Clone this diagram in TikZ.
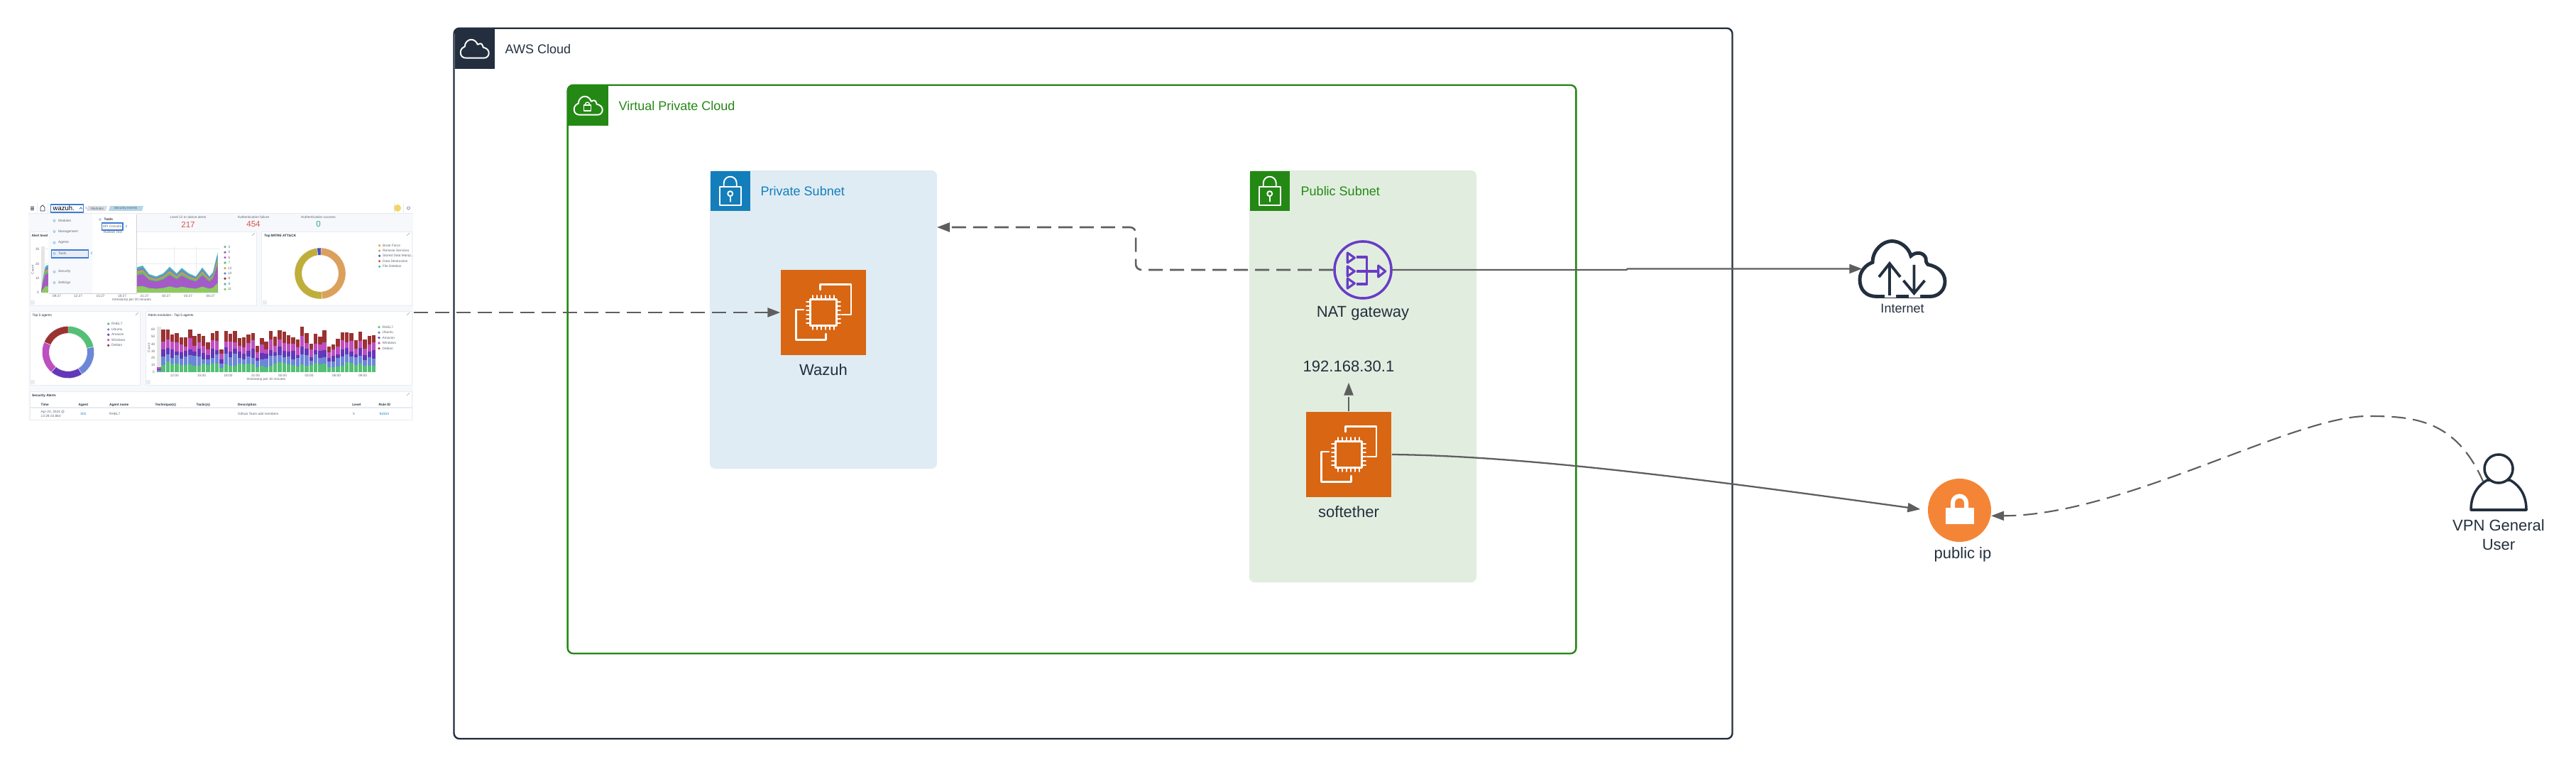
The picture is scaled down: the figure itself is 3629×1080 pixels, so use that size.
\documentclass[tikz,border=0pt]{standalone}
\usepackage{fontspec}
\setmainfont{Liberation Sans}
\usetikzlibrary{arrows.meta}
\definecolor{awsdark}{HTML}{232F3E}
\definecolor{vpcgreen}{HTML}{248814}
\definecolor{privblue}{HTML}{147EBA}
\definecolor{privfill}{HTML}{DFECF4}
\definecolor{pubfill}{HTML}{E1EEDF}
\definecolor{ectwo}{HTML}{D86613}
\definecolor{natpurple}{HTML}{693CC5}
\definecolor{ipfill}{HTML}{F58536}
\definecolor{linegrey}{HTML}{5E5E5E}
\definecolor{pagebg}{HTML}{F7F8FB}
\definecolor{panelline}{HTML}{E8EBF1}
\definecolor{menuside}{HTML}{F7F9FC}
\definecolor{menurow}{HTML}{E9EDF3}
\definecolor{focusblue}{HTML}{3C7BD9}
\definecolor{crumbgrey}{HTML}{D8DDE2}
\definecolor{crumbblue}{HTML}{B5D5E8}
\definecolor{textgrey}{HTML}{5F6672}
\definecolor{chartgreen}{HTML}{54BF76}
\definecolor{chartblue}{HTML}{6C87D8}
\definecolor{chartpurple}{HTML}{6238B8}
\definecolor{chartpink}{HTML}{BD4FBF}
\definecolor{chartred}{HTML}{9B3232}
\definecolor{arealime}{HTML}{8CCB5E}
\definecolor{areaviolet}{HTML}{A35BC9}
\definecolor{areagold}{HTML}{C7A24A}
\definecolor{areateal}{HTML}{4CB7B0}
\definecolor{ringorange}{HTML}{DBA05C}
\definecolor{ringolive}{HTML}{BFAE3A}
\definecolor{ringblue}{HTML}{3F4FC5}
\definecolor{statred}{HTML}{D9534F}
\definecolor{statteal}{HTML}{2FA8A0}
\definecolor{badge}{HTML}{F2D566}
\tikzset{
	groupframe/.style={line width=0.68pt,inner sep=0,rounded corners=0.08cm},
	subnetbox/.style={inner sep=0,rounded corners=0.08cm},
	headbox/.style={inner sep=0,minimum size=0.56cm,anchor=north west},
	ecbox/.style={fill=ectwo,inner sep=0,minimum size=1.2cm},
	grouptitle/.style={font=\fontsize{5.12}{6.2}\selectfont,inner sep=0,anchor=west},
	caption/.style={font=\fontsize{6.26}{7.7}\selectfont,text=awsdark,inner sep=0,align=center},
	dashline/.style={draw=linegrey,line width=0.72pt,dash pattern=on 0.2cm off 0.1cm},
	solidline/.style={draw=linegrey,line width=0.65pt},
	tip/.style={-{Triangle[length=0.18cm,width=0.13cm]}},
	iconpen/.style={draw=white,line width=0.55pt,line join=round,line cap=round},
	dashtext/.style={font=\fontsize{1.35}{1.7}\selectfont,text=textgrey,inner sep=0,anchor=west},
	dashbold/.style={font=\fontsize{1.35}{1.7}\selectfont\bfseries,text=awsdark,inner sep=0,anchor=west},
	dashpanel/.style={fill=white,draw=panelline,line width=0.2pt},
	chartgrid/.style={draw=panelline,line width=0.15pt},
	pics/cloudicon/.style={code={
		\draw[pic actions] (-12,13) .. controls (-17,13) and (-20,10) .. (-20,5)
			.. controls (-20,1) and (-17,-2) .. (-14,-3)
			.. controls (-14,-9) and (-9,-13) .. (-5,-13)
			.. controls (-1,-13) and (3,-10) .. (4,-6)
			.. controls (6,-8) and (10,-8) .. (11,-5)
			.. controls (11,-4) and (11,-3) .. (12,-2)
			.. controls (17,-1) and (20,2) .. (20,6)
			.. controls (20,10) and (17,13) .. (13,13) -- cycle;
	}},
	pics/lockicon/.style={code={
		\draw[iconpen] (-15,-6) rectangle (15,20);
		\draw[iconpen] (-9,-6) -- (-9,-11) arc[start angle=180,end angle=360,radius=9] -- (9,-6);
		\draw[iconpen] (0,4) circle[radius=3.5];
		\draw[iconpen] (0,7.5) -- (0,15);
	}},
	pics/chipicon/.style={code={
		\draw[iconpen,line width=0.75pt] (-4.4,-32) -- (-4.4,-39.3) -- (39,-39.3) -- (39,3) -- (26,3);
		\draw[iconpen,line width=0.75pt] (-28,-4) -- (-38.6,-4) -- (-38.6,38.3) -- (3.3,38.3) -- (3.3,30);
		\draw[iconpen,line width=0.75pt] (-18.5,-18.5) rectangle (18.5,18.5);
		\foreach \pin in {-15,-9,-3,3,9,15}{
			\draw[iconpen] (\pin,-24) -- (\pin,-18.5);
			\draw[iconpen] (\pin,24) -- (\pin,18.5);
			\draw[iconpen] (-24,\pin) -- (-18.5,\pin);
			\draw[iconpen] (24,\pin) -- (18.5,\pin);
		}
	}},
}
\begin{document}
\begin{tikzpicture}[x=0.01cm,y=-0.01cm]
	\useasboundingbox (0,0) rectangle (3629,1080);

	% screenshot of the dashboard
	\node[inner sep=0,minimum width=5.42cm,minimum height=3cm] (dashboard) at (311,440) {};
	\fill[pagebg] (40,300) rectangle (582,592);
	\draw[panelline,line width=0.2pt] (40,300) -- (582,300);
	\foreach \xa/\ya/\xb/\yb in {42/326/361/430,368.5/326/580/430,42/438/197.5/542,205.5/438/580/542,42/551/580/591}{
		\draw[dashpanel] (\xa,\ya) rectangle (\xb,\yb);
	}
	\foreach \bx/\by in {46/426,373/426,46/538,209/538}{
		\fill[menurow] (\bx-3,\by-3) rectangle (\bx+3,\by+3);
	}
	\foreach \bx/\by in {357/330,575/330,193/442,575/442,575/555}{
		\draw[textgrey!60,line width=0.15pt] (\bx-2,\by+2) -- (\bx+2,\by-2);
	}
	% top bar
	\foreach \ly in {291,293,295}{\draw[awsdark,line width=0.2pt] (43,\ly) -- (48,\ly);}
	\draw[awsdark,line width=0.2pt] (57,297) -- (57,292) -- (60,289) -- (63,292) -- (63,297) -- cycle;
	\draw[panelline,line width=0.2pt] (52,286) -- (52,300) (67,286) -- (67,300) (555,286) -- (555,300) (568,286) -- (568,300);
	\draw[focusblue,line width=0.3pt] (71.5,288) rectangle (117.5,299);
	\node[font=\fontsize{2.7}{3}\selectfont,text=black,inner sep=0,anchor=west] (wazuhlogo) at (74,293) {wazuh.};
	\draw[awsdark,line width=0.15pt] (112,294.5) -- (114,292) -- (116,294.5);
	\node[dashtext,text=focusblue] (stepone) at (119,293) {1};
	\fill[crumbgrey] (122,297) -- (124,290) -- (151,290) -- (149,297) -- cycle;
	\fill[crumbblue] (153,297) -- (155,290) -- (202,290) -- (200,297) -- cycle;
	\node[dashtext,anchor=center] (crumbmodules) at (137,293.5) {Modules};
	\node[dashtext,anchor=center] (crumbevents) at (177,293.5) {Security events};
	\fill[badge] (560,293) circle[radius=5];
	\draw[textgrey,line width=0.15pt] (575.5,293) circle[radius=2];
	% counters
	\foreach \sx/\slabel/\snum/\scol [count=\i] in {265/Level 12 or above alerts/217/statred,357/Authentication failure/454/statred,448.5/Authentication success/0/statteal}{
		\node[dashtext,anchor=center] (statlabel\i) at (\sx,306) {\slabel};
		\node[font=\fontsize{3.3}{4}\selectfont,text=\scol,inner sep=0] (statnum\i) at (\sx,316) {\snum};
	}
	% stacked areas
	\fill[black!10] (58,347) rectangle (63,412);
	\foreach \ly in {350.7,371.7,391.7}{\draw[chartgrid] (58,\ly) -- (310,\ly);}
	\foreach \lx in {192,245,276}{\draw[chartgrid] (\lx,347) -- (\lx,412);}
	\def\areashape{(58,0) -- (60,-17) -- (64,-37) -- (68,-39) -- (192,-35.3) -- (201,-38) -- (210,-26) -- (220,-22.7) -- (230,-27) -- (239,-36.3) -- (249,-27) -- (256,-34.7) -- (266,-27) -- (276,-22.7) -- (285,-35.3) -- (295,-22.7) -- (300,-28.7) -- (306.7,-57) -- (306.7,0) -- cycle}
	\foreach \layerf/\col in {1/areateal,.92/chartblue,.84/areagold,.76/chartgreen,.68/chartpink,.62/areaviolet,.24/arealime}{
		\begin{scope}[shift={(0,412)},yscale=\layerf]
			\fill[\col] \areashape;
		\end{scope}
	}
	\draw[chartgrid] (58,412) -- (310,412);
	\node[dashbold] (titlelevel) at (44,332) {Alert level evolution};
	\foreach \ly/\lab [count=\i] in {350.7/30,371.7/20,391.7/10,412/0}{
		\node[dashtext,anchor=east] (areatick\i) at (56,\ly) {\lab};
	}
	\node[dashtext,anchor=center,rotate=90] (areacount) at (46,380) {Count};
	\foreach \lx/\lab [count=\i] in {80/09:27,110/12:27,141.6/15:27,172/18:27,203.6/21:27,234/00:27,265/03:27,296.6/06:27}{
		\node[dashtext,anchor=center] (areadate\i) at (\lx,417) {\lab};
	}
	\node[dashtext,anchor=center] (areaaxis) at (185.6,422) {timestamp per 30 minutes};
	\foreach \ly/\col/\lab [count=\i] in {347.7/chartgreen/3,355.3/areaviolet/5,362.7/chartpink/6,370/chartgreen/7,377.7/areagold/12,385/chartblue/10,392.3/chartred/8,400/areateal/9,407.3/arealime/11}{
		\fill[\col] (317,\ly) circle[radius=1.8];
		\node[dashtext] (arealegend\i) at (320.5,\ly) {\lab};
	}
	% ring of techniques
	\node[dashbold] (titlemitre) at (371.6,332) {Top MITRE ATT\&CK};
	\foreach \angA/\angB/\col in {-88/86/ringorange,86/263/ringolive,263/272/ringblue}{
		\fill[\col,draw=white,line width=0.1pt] ([shift={(\angA:36)}]451,385) arc[start angle=\angA,end angle=\angB,radius=36] -- ([shift={(\angB:25.7)}]451,385) arc[start angle=\angB,end angle=\angA,radius=25.7] -- cycle;
	}
	\foreach \ly/\col/\lab [count=\i] in {345.7/ringorange/Brute Force,353/ringolive/Remove Services,360.3/ringblue/{Stored Data Manip...},367.7/statred/Data Destruction,375.3/areateal/File Deletion}{
		\fill[\col] (534.6,\ly) circle[radius=1.8];
		\node[dashtext] (ringlegend\i) at (538.5,\ly) {\lab};
	}
	% ring of agents
	\node[dashtext,text=awsdark] (titleagents) at (45,444) {Top 5 agents};
	\foreach \angA/\angB/\col in {-90/-12/chartgreen,-12/58/chartblue,58/130/chartpurple,130/203/chartpink,203/270/chartred}{
		\fill[\col,draw=white,line width=0.1pt] ([shift={(\angA:36.7)}]96,496) arc[start angle=\angA,end angle=\angB,radius=36.7] -- ([shift={(\angB:26.7)}]96,496) arc[start angle=\angB,end angle=\angA,radius=26.7] -- cycle;
	}
	\foreach \ly/\col/\lab [count=\i] in {456/chartgreen/RHEL7,464/chartblue/Ubuntu,471.3/chartpurple/Amazon,478.7/chartpink/Windows,486.3/chartred/Debian}{
		\fill[\col] (152.7,\ly) circle[radius=1.8];
		\node[dashtext] (agentlegend\i) at (156.5,\ly) {\lab};
	}
	% stacked bars
	\node[dashtext,text=awsdark] (titlebars) at (208,444) {Alerts evolution - Top 5 agents};
	\fill[black!10] (221,460) rectangle (226.5,524);
	\fill[chartgreen] (221,524) rectangle (226.5,523);
	\fill[chartblue] (221,523) rectangle (226.5,521);
	\fill[chartpurple] (221,521) rectangle (226.5,520);
	\fill[chartpink] (221,520) rectangle (226.5,517);
	\foreach \total [count=\i from 0] in {60,60,53,55,49,49,60,51,54,51,42,55,58,32,58,54,58,48,49,53,55,37,48,43,58,50,59,57,52,49,46,64,55,40,54,50,59,36,39,47,56,56,55,45,57,46,51,52}{
		\pgfmathsetmacro\barx{230+6.31*\i}
		\pgfmathsetmacro\lvla{\total*(.16+.012*mod(7*\i,8))}
		\pgfmathsetmacro\lvlb{\total*(.36+.012*mod(5*\i,9))}
		\pgfmathsetmacro\lvlc{\total*(.53+.012*mod(3*\i,9))}
		\pgfmathsetmacro\lvld{\total*(.72+.012*mod(4*\i,9))}
		\fill[chartred] (\barx-2.7,524-\lvld) rectangle (\barx+2.7,524-\total);
		\fill[chartpink] (\barx-2.7,524-\lvlc) rectangle (\barx+2.7,524-\lvld);
		\fill[chartpurple] (\barx-2.7,524-\lvlb) rectangle (\barx+2.7,524-\lvlc);
		\fill[chartblue] (\barx-2.7,524-\lvla) rectangle (\barx+2.7,524-\lvlb);
		\fill[chartgreen] (\barx-2.7,524) rectangle (\barx+2.7,524-\lvla);
	}
	\foreach \ly/\lab [count=\i] in {464.3/60,474/50,485/40,495/30,504.3/20,514.3/10,524/0}{
		\node[dashtext,anchor=east] (bartick\i) at (219,\ly) {\lab};
	}
	\node[dashtext,anchor=center,rotate=90] (barcount) at (209.7,490) {Count};
	\foreach \lx/\lab [count=\i] in {245.7/12:00,284/15:00,321.5/18:00,360/21:00,398/00:00,435.5/03:00,474/06:00,511/09:00}{
		\node[dashtext,anchor=center] (bardate\i) at (\lx,528.5) {\lab};
	}
	\node[dashtext,anchor=center] (baraxis) at (375,534) {timestamp per 30 minutes};
	\foreach \ly/\col/\lab [count=\i] in {460.7/chartgreen/RHEL7,468.3/chartblue/Ubuntu,475.7/chartpurple/Amazon,483/chartpink/Windows,490.7/chartred/Debian}{
		\fill[\col] (534,\ly) circle[radius=1.8];
		\node[dashtext] (barlegend\i) at (538,\ly) {\lab};
	}
	% table
	\node[dashbold] (titletable) at (44.5,557) {Security Alerts};
	\draw[panelline,line width=0.3pt] (42,574) -- (580,574);
	\foreach \lx/\lab [count=\i] in {57/Time,110/Agent,153.5/Agent name,218/Technique(s),276/Tactic(s),334.5/Description,495.6/Level,533/Rule ID}{
		\node[dashbold] (tablehead\i) at (\lx,570) {\lab};
	}
	\node[dashtext,align=left] (rowtime) at (57,583) {Apr 20, 2024 @\\13:28:10.864};
	\node[dashtext,text=privblue] (rowagent) at (113,583) {001};
	\node[dashtext] (rowname) at (153.5,583) {RHEL7};
	\node[dashtext] (rowdesc) at (334.5,583) {Github Team add members};
	\node[dashtext] (rowlevel) at (496,583) {5};
	\node[dashtext,text=privblue] (rowrule) at (534,583) {91553};
	% open menu
	\fill[black!18] (69,302) rectangle (193,414.5);
	\fill[white] (68,301) rectangle (192,413);
	\fill[menuside] (68,301) rectangle (130,413);
	\draw[focusblue,fill=menurow,line width=0.3pt] (72.7,352) rectangle (124.8,363);
	\foreach \ly/\lab [count=\i] in {310.7/Modules,326/Management,341.7/Agents,357/Tools,382.7/Security,398/Settings}{
		\draw[privblue!60,line width=0.15pt] (76.5,\ly) circle[radius=1.8];
		\node[dashtext] (menuitem\i) at (81.5,\ly) {\lab};
	}
	\node[dashtext,text=focusblue] (steptwo) at (126.5,357) {2};
	\draw[privblue!60,line width=0.15pt] (141,309) circle[radius=1.5];
	\node[dashbold] (menutools) at (146,309) {Tools};
	\draw[focusblue,line width=0.3pt] (143.5,314) rectangle (173,324);
	\node[dashtext,anchor=center] (menuapi) at (158,319) {API Console};
	\node[dashtext,text=focusblue] (stepthree) at (175.5,319) {3};
	\node[dashtext,anchor=center] (menuruleset) at (159,327) {Ruleset Test};

	% AWS groups
	\node[groupframe,draw=awsdark,minimum width=18cm,minimum height=10cm] (awscloud) at (1540,540) {};
	\node[headbox,fill=awsdark] (awshead) at (640,40) {};
	\pic[iconpen] at (awshead) {cloudicon};
	\node[grouptitle,text=awsdark] (awstitle) at (711,69) {AWS Cloud};
	\node[groupframe,draw=vpcgreen,minimum width=14.2cm,minimum height=8cm] (vpc) at (1510,520) {};
	\node[headbox,fill=vpcgreen] (vpchead) at (800,120) {};
	\pic[iconpen] at (vpchead) {cloudicon};
	\draw[iconpen,line width=0.4pt] (822.5,148) rectangle (832.5,156);
	\draw[iconpen,line width=0.4pt] (824.5,148) -- (824.5,147) arc[start angle=180,end angle=360,radius=3] -- (830.5,148);
	\node[grouptitle,text=vpcgreen] (vpctitle) at (871,149) {Virtual Private Cloud};
	\node[subnetbox,fill=privfill,minimum width=3.2cm,minimum height=4.2cm] (privsub) at (1160,450) {};
	\node[headbox,fill=privblue] (privhead) at (1000,240) {};
	\pic at (privhead) {lockicon};
	\node[grouptitle,text=privblue] (privtitle) at (1071,269) {Private Subnet};
	\node[subnetbox,fill=pubfill,minimum width=3.2cm,minimum height=5.8cm] (pubsub) at (1920,530) {};
	\node[headbox,fill=vpcgreen] (pubhead) at (1760,240) {};
	\pic at (pubhead) {lockicon};
	\node[grouptitle,text=vpcgreen] (pubtitle) at (1832,269) {Public Subnet};

	% instances
	\node[ecbox] (wazuh) at (1160,440) {};
	\pic at (wazuh) {chipicon};
	\node[caption] (wazuhlabel) at (1160,520.5) {Wazuh};
	\node[ecbox] (softether) at (1900,640) {};
	\pic at (softether) {chipicon};
	\node[caption] (softetherlabel) at (1900,720.5) {softether};
	\node[caption,minimum height=0.44cm] (vpnip) at (1900,516) {192.168.30.1};

	% NAT gateway
	\node[circle,draw=natpurple,line width=1pt,inner sep=0,minimum size=0.8cm] (nat) at (1920,380) {};
	\begin{scope}[shift={(1920,380)},draw=natpurple,line width=0.9pt,line join=round]
		\draw (-21.7,-24) -- (-11.7,-17) -- (-21.7,-10) -- cycle;
		\draw (-21.7,-5) -- (-11.7,2) -- (-21.7,9) -- cycle;
		\draw (-21.7,12) -- (-11.7,19) -- (-21.7,26) -- cycle;
		\draw (21.7,-6) -- (31.7,2) -- (21.7,10) -- cycle;
		\draw (-9.3,-18) -- (5.7,-18) -- (5.7,20) -- (-9.3,20);
		\draw (-9.3,2) -- (21.7,2);
	\end{scope}
	\node[caption] (natlabel) at (1920,441.5) {NAT gateway};

	% outside nodes
	\node[inner sep=0,minimum width=1.12cm,minimum height=0.75cm] (internet) at (2680,378.5) {};
	\pic[draw=awsdark,line width=1.4pt,scale=3] at (internet) {cloudicon};
	\fill[white] (2655,412) rectangle (2671,419) (2689,412) rectangle (2705,419);
	\draw[awsdark,line width=1.1pt] (2662,416) -- (2662,373) (2647,390) -- (2662,371) -- (2677,390);
	\draw[awsdark,line width=1.1pt] (2696.5,373) -- (2696.5,411) (2681.5,395) -- (2696.5,413) -- (2711.5,395);
	\node[grouptitle,anchor=center,text=awsdark] (internetlabel) at (2680,434) {Internet};
	\node[circle,fill=ipfill,inner sep=0,minimum size=0.89cm] (pubip) at (2760.5,718.5) {};
	\draw[white,line width=1.7pt] (2751,718) -- (2751,708) arc[start angle=180,end angle=360,radius=9.5] -- (2770,718);
	\fill[white] (2741,715) rectangle (2780.5,738);
	\node[caption] (pubiplabel) at (2765,781) {public ip};
	\coordinate (usercorner) at (3499,680);
	\coordinate (privin) at (1320,320);
	\node[inner sep=0,minimum width=0.78cm,minimum height=0.78cm] (vpnuser) at (3520,679) {};

	% connectors
	\draw[dashline,tip] (dashboard.east) -- (wazuh.west);
	\draw[dashline,tip,rounded corners=0.08cm] (nat.west) -- (1600,380) -- (1600,320) -- (privin);
	\draw[dashline,tip] (softether.north) -- (vpnip.south);
	\draw[solidline,tip] (nat.east) -- (2291,380) -- (2293,378.5) -- (internet.west);
	\draw[solidline,tip,shorten >=0.1cm] (softether.east) .. controls (2150,642) and (2400,675) .. (pubip.west);
	\draw[dashline,line width=0.6pt,tip] (usercorner) .. controls (3460,590) and (3400,586) .. (3335,586) .. controls (3230,586) and (2990,726) .. (pubip.-10);

	% user
	\draw[awsdark,line width=1pt,line join=round,fill=white] (3481,718) .. controls (3481,700) and (3488,685) .. (3504,676) -- (3536,676) .. controls (3552,685) and (3559,700) .. (3559,718) -- cycle;
	\draw[awsdark,line width=1pt,fill=white] (3520,660) circle[radius=20];
	\node[caption] (vpnuserlabel) at (3520,753.5) {VPN General\\User};
\end{tikzpicture}
\end{document}
